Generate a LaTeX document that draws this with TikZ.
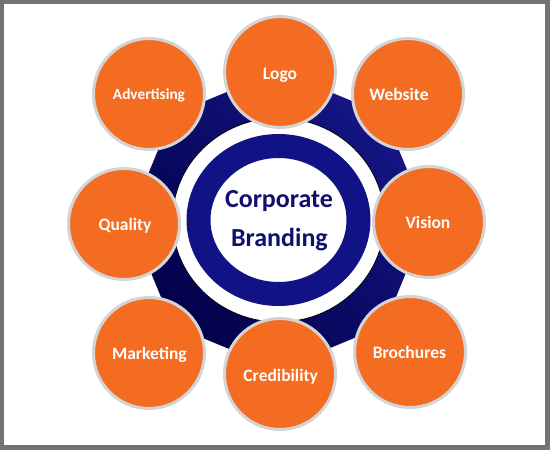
\documentclass[tikz,border=0pt]{standalone}
\usepackage{fontspec}
\setmainfont{Carlito}
\definecolor{frame}{RGB}{115,115,115}
\definecolor{orng}{RGB}{243,108,33}
\definecolor{ringgray}{RGB}{212,212,212}
\definecolor{navyring}{RGB}{18,18,135}
\definecolor{navylight}{RGB}{22,22,135}
\definecolor{navydark}{RGB}{0,0,72}
\definecolor{txtnavy}{RGB}{16,16,110}
\begin{document}
\begin{tikzpicture}[x=1pt,y=-1pt,
  sat/.style={circle, fill=orng, draw=ringgray, line width=3pt, minimum size=111pt, inner sep=0pt},
  lab/.style={text=white, font=\bfseries\fontsize{17.5}{20}\selectfont, text height=11.3pt, text depth=0pt, inner sep=0pt},
  smalllab/.style={lab, font=\bfseries\fontsize{15.3}{18}\selectfont, text height=9.9pt},
  cbtext/.style={text=txtnavy, font=\bfseries\fontsize{26}{30}\selectfont, text height=16.7pt, text depth=0pt, inner sep=0pt}
  ]
\fill[frame] (0,0) rectangle (550,450);
\fill[white] (4,4) rectangle (545,445);
\useasboundingbox (0,0) rectangle (550,450);
\coordinate (c) at (278.5,220);
% navy octagon
\shade[top color=navylight, bottom color=navydark, shading angle=-45]
  ([shift={(c)}]0:149.4) -- ([shift={(c)}]45:149.4) -- ([shift={(c)}]90:149.4) --
  ([shift={(c)}]135:149.4) -- ([shift={(c)}]180:149.4) -- ([shift={(c)}]225:149.4) --
  ([shift={(c)}]270:149.4) -- ([shift={(c)}]315:149.4) -- cycle;
% white disc
\filldraw[fill=white, draw=black, line width=0.8pt] (c) ellipse [x radius=106, y radius=102];
% ring
\draw[navyring, line width=24pt] (c) ellipse [x radius=80, y radius=74];
\node[cbtext] (cb1) at (279,199.5) {Corporate};
\node[cbtext] (cb2) at (279.4,238.3) {Branding};
% satellites
\node[sat] (logo) at (280,72) {};
\node[sat] (web) at (408,94) {};
\node[sat] (vis) at (429,222) {};
\node[sat] (bro) at (410,352) {};
\node[sat] (cre) at (280,374) {};
\node[sat] (mar) at (149,353) {};
\node[sat] (qua) at (124,224) {};
\node[sat] (adv) at (149,94) {};
\node[lab] (logot) at (280,74) {Logo};
\node[lab] (webt) at (399,95) {Website};
\node[lab] (vist) at (428,223.3) {Vision};
\node[lab] (brot) at (409.5,352.5) {Brochures};
\node[lab] (cret) at (280.7,375.5) {Credibility};
\node[lab] (mart) at (149.4,354) {Marketing};
\node[lab] (quat) at (125,224.5) {Quality};
\node[smalllab] (advt) at (149,94.7) {Advertising};
\end{tikzpicture}
\end{document}
